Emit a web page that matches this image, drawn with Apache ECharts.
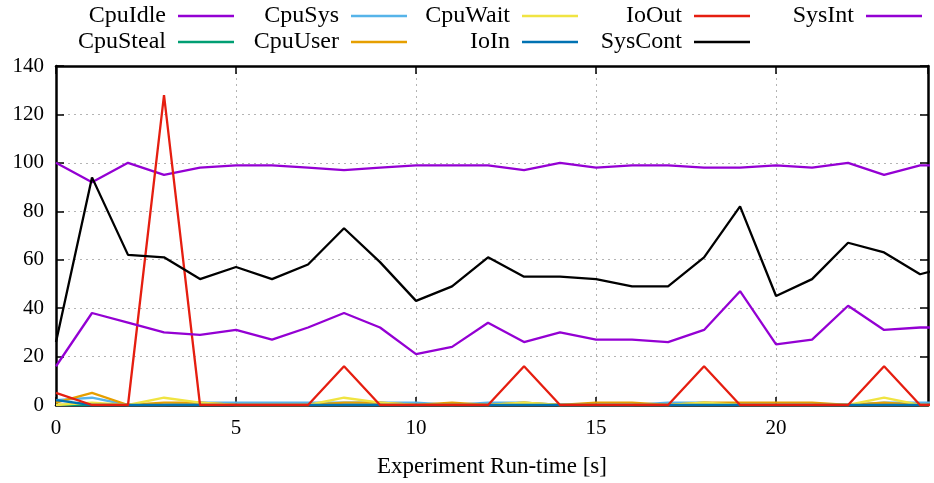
<!DOCTYPE html>
<html>
<head>
<meta charset="utf-8">
<script src="https://cdn.jsdelivr.net/npm/echarts@6/dist/echarts.min.js"></script>
<style>
  html, body { margin: 0; padding: 0; background: #fff; }
  #chart { width: 934px; height: 483px; }
</style>
</head>
<body>
<div id="chart"></div>
<script>
// seconds since start
var times = [0, 1, 2, 3, 4, 5, 6, 7, 8, 9, 10, 11, 12, 13, 14, 15, 16, 17, 18, 19, 20, 21, 22, 23, 24, 25];

var cpuIdle  = [100, 92, 100, 95, 98, 99, 99, 98, 97, 98, 99, 99, 99, 97, 100, 98, 99, 99, 98, 98, 99, 98, 100, 95, 99, 99];
var cpuSteal = [0, 0, 0, 0, 0, 0, 0, 0, 0, 0, 0, 0, 0, 0, 0, 0, 0, 0, 0, 0, 0, 0, 0, 0, 0, 0];
var cpuSys   = [2, 3, 0, 0, 1, 1, 1, 1, 1, 1, 1, 0, 1, 1, 0, 0, 0, 1, 1, 0, 0, 0, 0, 1, 1, 1];
var cpuUser  = [1, 5, 0, 1, 1, 0, 0, 0, 1, 1, 0, 1, 0, 1, 0, 1, 1, 0, 1, 1, 1, 1, 0, 1, 0, 0];
var cpuWait  = [0, 1, 0, 3, 1, 0, 0, 0, 3, 1, 0, 0, 0, 1, 0, 0, 0, 0, 1, 0, 0, 0, 0, 3, 0, 0];
var ioIn     = [2, 0, 0, 0, 0, 0, 0, 0, 0, 0, 0, 0, 0, 0, 0, 0, 0, 0, 0, 0, 0, 0, 0, 0, 0, 0];
var ioOut    = [5, 0, 0, 128, 0, 0, 0, 0, 16, 0, 0, 0, 0, 16, 0, 0, 0, 0, 16, 0, 0, 0, 0, 16, 0, 0];
var sysCont  = [26, 94, 62, 61, 52, 57, 52, 58, 73, 59, 43, 49, 61, 53, 53, 52, 49, 49, 61, 82, 45, 52, 67, 63, 54, 58];
var sysInt   = [16, 38, 34, 30, 29, 31, 27, 32, 38, 32, 21, 24, 34, 26, 30, 27, 27, 26, 31, 47, 25, 27, 41, 31, 32, 32];

var seriesNames = ['CpuIdle', 'CpuSteal', 'CpuSys', 'CpuUser', 'CpuWait', 'IoIn', 'IoOut', 'SysCont', 'SysInt'];
var seriesData  = [cpuIdle, cpuSteal, cpuSys, cpuUser, cpuWait, ioIn, ioOut, sysCont, sysInt];
var colors = ['#9400d3', '#009e73', '#56b4e9', '#e69f00', '#f0e442', '#0072b2', '#e51e10', '#000000', '#9400d3'];

var FONT = 'Liberation Serif';

function pairs(vals) {
    return times.map(function (t, i) { return [t, vals[i]]; });
}

// gnuplot key: 2 rows, filled column by column
var legendCols = [700, 527, 356, 184, 12];
var legendRows = [4, 30];

function makeLegends() {
    var list = [];
    for (var i = 0; i < seriesNames.length; i++) {
        var col = Math.floor(i / 2), row = i % 2;
        list.push({
            data: [seriesNames[i]],
            right: legendCols[col],
            top: legendRows[row],
            align: 'right',
            padding: 0,
            itemWidth: 56,
            itemHeight: 14,
            icon: 'path://M0,0 L56,0 L56,2.5 L0,2.5 Z',
            selectedMode: false,
            textStyle: { fontFamily: FONT, fontSize: 24, color: '#000', padding: [0, 7, 0, 0] }
        });
    }
    return list;
}

function makeSeries() {
    return seriesNames.map(function (name, i) {
        return {
            name: name,
            type: 'line',
            data: pairs(seriesData[i]),
            symbol: 'none',
            color: colors[i],
            lineStyle: { width: 2.3, color: colors[i] },
            animation: false
        };
    });
}

var tickStyle = { show: true, inside: true, length: 8, lineStyle: { color: '#000', width: 1.5 } };
var lineStyle = { show: true, onZero: false, lineStyle: { color: '#000', width: 2.5 } };
var gridLine = { show: true, lineStyle: { color: '#b4b4b4', type: [2, 4], width: 1 } };

var option = {
    backgroundColor: '#fff',
    color: colors,
    legend: makeLegends(),
    grid: { left: 56, right: 6, top: 66, bottom: 77 },
    xAxis: [{
        type: 'value',
        min: 0,
        max: 24.22,
        interval: 5,
        name: 'Experiment Run-time [s]',
        nameLocation: 'middle',
        nameGap: 50,
        nameTextStyle: { fontFamily: FONT, fontSize: 23, color: '#000' },
        axisLine: lineStyle,
        axisTick: tickStyle,
        axisLabel: {
            margin: 13, fontFamily: FONT, fontSize: 21, color: '#000', showMaxLabel: false,
            formatter: function (v) { return v % 5 === 0 ? v : ''; }
        },
        splitLine: gridLine
    }, {
        type: 'value',
        position: 'top',
        min: 0,
        max: 24.22,
        interval: 5,
        axisLine: lineStyle,
        axisTick: tickStyle,
        axisLabel: { show: false },
        splitLine: { show: false }
    }],
    yAxis: [{
        type: 'value',
        min: 0,
        max: 140,
        interval: 20,
        axisLine: lineStyle,
        axisTick: tickStyle,
        axisLabel: { margin: 12, fontFamily: FONT, fontSize: 21, color: '#000' },
        splitLine: gridLine
    }, {
        type: 'value',
        position: 'right',
        min: 0,
        max: 140,
        interval: 20,
        axisLine: lineStyle,
        axisTick: tickStyle,
        axisLabel: { show: false },
        splitLine: { show: false }
    }],
    series: makeSeries()
};

var myChart = echarts.init(document.getElementById('chart'));
myChart.setOption(option);
</script>
</body>
</html>
